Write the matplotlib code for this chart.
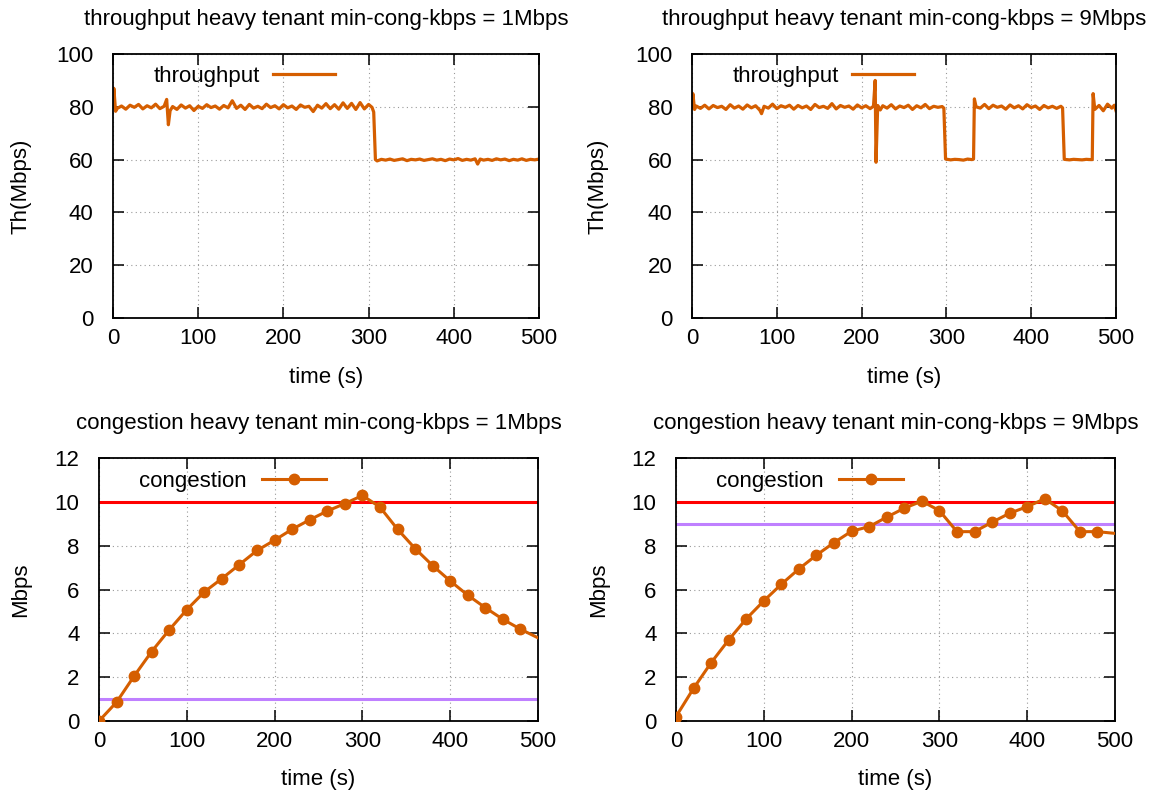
import numpy as np
import matplotlib
matplotlib.use('Agg')
import matplotlib.pyplot as plt

plt.rcParams['font.family'] = ['Liberation Sans', 'DejaVu Sans']

# throughput, min-cong-kbps = 1Mbps
tp1_t = [0, 1, 3, 5, 10, 15, 20, 25, 30, 35, 40, 45, 50, 55, 60, 63, 65, 67, 70, 75,
         80, 85, 90, 95, 100, 105, 110, 115, 120, 125, 130, 135, 140, 145, 150, 155, 160,
         165, 170, 175, 180, 185, 190, 195, 200, 205, 210, 215, 220, 225, 230, 235, 240,
         245, 250, 255, 260, 265, 270, 275, 280, 285, 290, 295, 300, 304, 306, 308,
         310, 315, 320, 325, 330, 335, 340, 345, 350, 355, 360, 365, 370, 375, 380, 385,
         390, 395, 400, 405, 410, 415, 420, 425, 428, 431, 435, 440, 445, 450, 455, 460,
         465, 470, 475, 480, 485, 490, 495, 500]
tp1_v = [80.0, 87.0, 78.3, 79.4, 80.3, 79.1, 80.6, 79.8, 80.9, 79.2, 80.4, 79.6, 81.0, 79.3,
         80.2, 82.8, 73.2, 78.5, 80.1, 79.0, 80.7, 79.5, 80.4, 78.6, 80.2, 79.4, 80.8,
         79.7, 80.3, 79.1, 80.5, 79.6, 82.3, 79.4, 80.6, 79.0, 80.9, 79.5, 80.2, 79.3,
         81.0, 79.7, 80.4, 79.2, 80.8, 79.6, 80.3, 79.0, 80.7, 79.8, 80.2, 78.2, 80.6,
         79.5, 81.2, 79.3, 80.8, 79.1, 81.5, 79.4, 81.3, 79.0, 81.6, 79.2, 80.9, 79.8,
         78.0, 60.0, 59.5, 60.1, 59.8, 60.2, 59.7, 60.0, 60.3, 59.6, 60.1, 59.9, 60.2,
         59.7, 60.0, 60.3, 59.8, 60.1, 59.6, 60.2, 59.9, 60.4, 59.7, 60.1, 59.8, 60.3,
         58.3, 60.2, 59.8, 60.1, 59.7, 60.3, 59.9, 60.2, 59.6, 60.1, 59.8, 60.3, 59.7,
         60.1, 59.9, 60.2]

# throughput, min-cong-kbps = 9Mbps
tp9_t = [0, 1, 3, 5, 10, 15, 20, 25, 30, 35, 40, 45, 50, 55, 60, 65, 70, 75, 80, 82,
         85, 90, 95, 100, 105, 110, 115, 120, 125, 130, 135, 140, 145, 150, 155, 160,
         165, 170, 175, 180, 185, 190, 195, 200, 205, 210, 214, 216, 217, 219, 222, 225,
         230, 235, 240, 245, 250, 255, 260, 265, 270, 275, 280, 285, 290, 295, 297, 299,
         305, 310, 315, 320, 325, 330, 332, 333, 335, 340, 345, 350, 355, 360, 365, 370,
         375, 380, 385, 390, 395, 400, 405, 410, 415, 420, 425, 430, 435, 437, 439, 445,
         450, 455, 460, 465, 470, 472, 473, 475, 480, 485, 490, 495, 498, 500]
tp9_v = [80.0, 85.0, 79.0, 80.3, 79.4, 80.6, 79.2, 80.5, 79.7, 80.2, 79.0, 80.8, 79.5,
         80.3, 79.1, 80.7, 79.6, 80.4, 78.7, 77.4, 80.2, 79.5, 81.0, 79.3, 80.4, 79.8,
         80.6, 79.1, 80.5, 79.6, 80.3, 79.0, 80.9, 79.7, 80.2, 79.4, 81.2, 79.2, 80.5,
         79.8, 80.3, 79.1, 80.7, 79.6, 80.4, 79.3, 80.2, 90.0, 59.0, 80.5, 78.8, 80.4,
         79.5, 80.8, 79.2, 80.3, 79.7, 80.6, 79.0, 80.4, 79.6, 80.9, 79.3, 80.2, 79.8,
         80.1, 79.5, 60.2, 59.9, 60.1, 60.0, 59.8, 60.2, 60.0, 60.2, 83.0, 80.0, 79.5,
         80.9, 79.3, 80.6, 79.8, 80.3, 79.1, 80.7, 79.6, 80.4, 79.2, 80.8, 79.7, 80.3,
         79.0, 80.5, 79.6, 80.2, 79.4, 80.2, 79.6, 60.1, 59.9, 60.1, 60.0, 59.9, 60.1,
         60.0, 60.0, 85.0, 79.0, 80.5, 78.5, 81.0, 79.5, 80.6, 78.5]

# congestion, sampled every 20 s
cong_t = [0, 20, 40, 60, 80, 100, 120, 140, 160, 180, 200, 220, 240, 260, 280, 300,
          320, 340, 360, 380, 400, 420, 440, 460, 480, 520]
cong1_v = [0.0, 0.86, 2.05, 3.17, 4.16, 5.08, 5.89, 6.5, 7.14, 7.78, 8.25, 8.75, 9.18,
           9.58, 9.92, 10.29, 9.76, 8.75, 7.87, 7.09, 6.39, 5.74, 5.17, 4.64, 4.19, 3.4]
cong9_v = [0.2, 1.49, 2.66, 3.7, 4.66, 5.48, 6.24, 6.94, 7.57, 8.14, 8.66, 8.87, 9.3,
           9.71, 10.03, 9.6, 8.64, 8.64, 9.07, 9.48, 9.78, 10.14, 9.59, 8.64, 8.64, 8.48]

max_cong = 10
min_cong = [1, 9]
titles_tp = ['throughput heavy tenant min-cong-kbps = 1Mbps',
             'throughput heavy tenant min-cong-kbps = 9Mbps']
titles_cg = ['congestion heavy tenant min-cong-kbps = 1Mbps',
             'congestion heavy tenant min-cong-kbps = 9Mbps']

orange = '#d55e00'
fs = 16

fig = plt.figure(figsize=(11.58, 7.91), dpi=100)

W, H = 1158.0, 791.0
def box(l, t, r, b):
    return [l / W, 1 - b / H, (r - l) / W, (b - t) / H]

ax_tp = [fig.add_axes(box(113, 54, 539, 318)), fig.add_axes(box(692, 54, 1116, 318))]
ax_cg = [fig.add_axes(box(99, 458, 538, 721)), fig.add_axes(box(676, 458, 1115, 721))]


def style(ax):
    ax.set_xlim(0, 500)
    ax.set_xticks([0, 100, 200, 300, 400, 500])
    ax.tick_params(direction='in', top=True, right=True, length=8, width=1.1,
                   labelsize=fs)
    ax.tick_params(axis='x', pad=7)
    ax.tick_params(axis='y', pad=14)
    for s in ax.spines.values():
        s.set_linewidth(1.3)
    ax.grid(True, linestyle=(0, (1, 3)), color='#999999', linewidth=0.8)
    ax.set_axisbelow(True)


for i, ax in enumerate(ax_tp):
    tt, vv = [(tp1_t, tp1_v), (tp9_t, tp9_v)][i]
    ax.plot(tt, vv, color=orange, lw=2.3, label='throughput')
    style(ax)
    ax.set_ylim(0, 100)
    ax.set_yticks([0, 20, 40, 60, 80, 100])
    ax.set_xlabel('time (s)', fontsize=fs)
    ax.xaxis.set_label_coords(0.5, -0.185)
    ax.set_ylabel('Th(Mbps)', fontsize=fs)
    ax.yaxis.set_label_coords([-0.192, -0.196][i], 0.5)
    ax.text(0.5, 1 + 34 / 264, titles_tp[i], ha='center', va='center',
            transform=ax.transAxes, fontsize=fs)
    ax.legend(loc='upper left', bbox_to_anchor=(0.095, 0.955), frameon=False,
              markerfirst=False, handlelength=2.8, handletextpad=0.6,
              borderaxespad=0, borderpad=0, fontsize=fs)

for i, ax in enumerate(ax_cg):
    vv = [cong1_v, cong9_v][i]
    ax.axhline(max_cong, color='#ff0000', lw=2.2, zorder=2)
    ax.axhline(min_cong[i], color='#bf80ff', lw=2.2, zorder=2)
    ax.plot(cong_t, vv, color=orange, lw=2.2, marker='o', markersize=7.5,
            label='congestion', zorder=3)
    style(ax)
    ax.set_ylim(0, 12)
    ax.set_yticks([0, 2, 4, 6, 8, 10, 12])
    ax.set_xlabel('time (s)', fontsize=fs)
    ax.xaxis.set_label_coords(0.5, -0.182)
    ax.set_ylabel('Mbps', fontsize=fs)
    ax.yaxis.set_label_coords([-0.155, -0.153][i], 0.5)
    ax.text(0.5, 1 + 34 / 263, titles_cg[i], ha='center', va='center',
            transform=ax.transAxes, fontsize=fs)
    ax.legend(loc='upper left', bbox_to_anchor=(0.09, 0.95), frameon=False,
              markerfirst=False, handlelength=2.9, handletextpad=0.7,
              borderaxespad=0, borderpad=0, fontsize=fs)

fig.savefig('out.png', dpi=100)
